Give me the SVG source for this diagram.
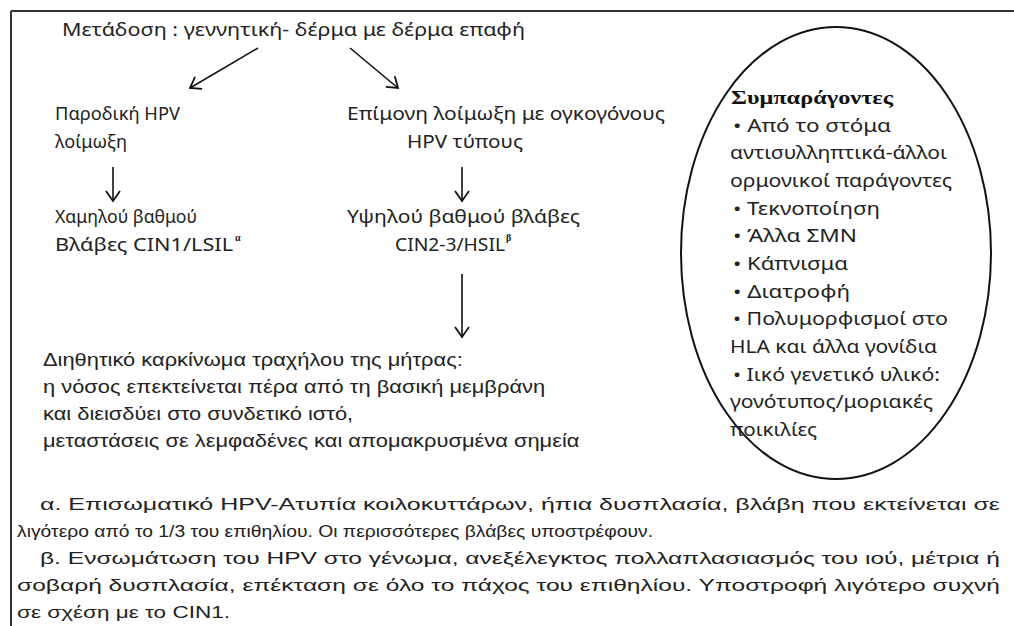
<svg xmlns="http://www.w3.org/2000/svg" width="1014" height="626" viewBox="0 0 1014 626">
<defs>
<style>
.m{font-family:"Noto Sans","DejaVu Sans",sans-serif;font-size:18px;fill:#222}
.n{font-family:"Liberation Sans",Arial,sans-serif;font-size:17px;fill:#222}
.c{font-family:"Liberation Sans",Arial,sans-serif;font-size:17.5px;fill:#222}
.h{font-family:"Liberation Serif",serif;font-size:18px;font-weight:bold;fill:#111}
.sup{font-family:"Liberation Serif",serif;font-size:10px;font-weight:bold;fill:#222}
.ln{stroke:#111;stroke-width:1.6;fill:none}
</style>
<marker id="ah" markerUnits="userSpaceOnUse" markerWidth="20" markerHeight="20" refX="12" refY="8" orient="auto" viewBox="0 0 20 16">
<path d="M2,1 L12,8 L2,15" fill="none" stroke="#111" stroke-width="1.8"/>
</marker>
</defs>
<rect width="1014" height="626" fill="#fff"/>
<g id="frame">
<line x1="11" y1="11" x2="1014" y2="11" stroke="#333" stroke-width="2"/>
<line x1="11" y1="11" x2="11" y2="626" stroke="#333" stroke-width="2"/>
</g>
<g id="connectors">
<line class="ln" x1="258" y1="48" x2="190" y2="88" marker-end="url(#ah)"/>
<line class="ln" x1="350" y1="48" x2="398" y2="88" marker-end="url(#ah)"/>
<line class="ln" x1="113" y1="167" x2="113" y2="201" marker-end="url(#ah)"/>
<line class="ln" x1="462" y1="167" x2="462" y2="201" marker-end="url(#ah)"/>
<line class="ln" x1="462" y1="274" x2="462" y2="337" marker-end="url(#ah)"/>
</g>
<g id="n-title"><text class="m" x="62" y="36" textLength="463" lengthAdjust="spacingAndGlyphs">Μετάδοση : γεννητική- δέρμα με δέρμα επαφή</text></g>
<g id="n-transient">
<text class="m" x="55" y="120" textLength="125" lengthAdjust="spacingAndGlyphs">Παροδική HPV</text>
<text class="m" x="55" y="148" textLength="72" lengthAdjust="spacingAndGlyphs">λοίμωξη</text>
</g>
<g id="n-persistent">
<text class="m" x="347" y="120" textLength="318" lengthAdjust="spacingAndGlyphs">Επίμονη λοίμωξη με ογκογόνους</text>
<text class="m" x="407" y="148" textLength="116" lengthAdjust="spacingAndGlyphs">HPV τύπους</text>
</g>
<g id="n-low">
<text class="m" x="55" y="223" textLength="142" lengthAdjust="spacingAndGlyphs">Χαμηλού βαθμού</text>
<text class="m" x="55" y="251" textLength="178" lengthAdjust="spacingAndGlyphs">Βλάβες CIN1/LSIL</text>
<text class="sup" x="235" y="241">α</text>
</g>
<g id="n-high">
<text class="m" x="347" y="223" textLength="233" lengthAdjust="spacingAndGlyphs">Υψηλού βαθμού βλάβες</text>
<text class="m" x="395" y="251" textLength="110" lengthAdjust="spacingAndGlyphs">CIN2-3/HSIL</text>
<text class="sup" x="506" y="241">β</text>
</g>
<g id="n-cancer" transform="matrix(1.25,0,0,1,43,0)">
<text class="c" x="0" y="366">Διηθητικό καρκίνωμα τραχήλου της μήτρας:</text>
<text class="c" x="0" y="393">η νόσος επεκτείνεται πέρα από τη βασική μεμβράνη</text>
<text class="c" x="0" y="420">και διεισδύει στο συνδετικό ιστό,</text>
<text class="c" x="0" y="447">μεταστάσεις σε λεμφαδένες και απομακρυσμένα σημεία</text>
</g>
<g id="n-cofactors">
<ellipse cx="836" cy="253" rx="155" ry="226" fill="none" stroke="#111" stroke-width="2"/>
<text class="h" x="731" y="104" textLength="162" lengthAdjust="spacingAndGlyphs">Συμπαράγοντες</text>
<text class="m" x="733" y="132" textLength="158" lengthAdjust="spacingAndGlyphs">• Από το στόμα</text>
<text class="m" x="730" y="159" textLength="217" lengthAdjust="spacingAndGlyphs">αντισυλληπτικά-άλλοι</text>
<text class="m" x="730" y="187" textLength="222" lengthAdjust="spacingAndGlyphs">ορμονικοί παράγοντες</text>
<text class="m" x="733" y="215" textLength="147" lengthAdjust="spacingAndGlyphs">• Τεκνοποίηση</text>
<text class="m" x="733" y="242" textLength="124" lengthAdjust="spacingAndGlyphs">• Άλλα ΣΜΝ</text>
<text class="m" x="733" y="270" textLength="115" lengthAdjust="spacingAndGlyphs">• Κάπνισμα</text>
<text class="m" x="733" y="298" textLength="117" lengthAdjust="spacingAndGlyphs">• Διατροφή</text>
<text class="m" x="733" y="325" textLength="215" lengthAdjust="spacingAndGlyphs">• Πολυμορφισμοί στο</text>
<text class="m" x="730" y="353" textLength="207" lengthAdjust="spacingAndGlyphs">HLA και άλλα γονίδια</text>
<text class="m" x="733" y="381" textLength="207" lengthAdjust="spacingAndGlyphs">• Ιικό γενετικό υλικό:</text>
<text class="m" x="730" y="408" textLength="203" lengthAdjust="spacingAndGlyphs">γονότυπος/μοριακές</text>
<text class="m" x="730" y="436" textLength="87" lengthAdjust="spacingAndGlyphs">ποικιλίες</text>
</g>
<g id="notes">
<text class="n" x="40" y="510" textLength="960" lengthAdjust="spacingAndGlyphs">α. Επισωματικό HPV-Ατυπία κοιλοκυττάρων, ήπια δυσπλασία, βλάβη που εκτείνεται σε</text>
<text class="n" x="17" y="537" textLength="636" lengthAdjust="spacingAndGlyphs">λιγότερο από το 1/3 του επιθηλίου. Οι περισσότερες βλάβες υποστρέφουν.</text>
<text class="n" x="40" y="564" textLength="960" lengthAdjust="spacingAndGlyphs">β. Ενσωμάτωση του HPV στο γένωμα, ανεξέλεγκτος πολλαπλασιασμός του ιού, μέτρια ή</text>
<text class="n" x="17" y="591" textLength="983" lengthAdjust="spacingAndGlyphs">σοβαρή δυσπλασία, επέκταση σε όλο το πάχος του επιθηλίου. Υποστροφή λιγότερο συχνή</text>
<text class="n" x="17" y="618" textLength="213" lengthAdjust="spacingAndGlyphs">σε σχέση με το CIN1.</text>
</g>
</svg>
